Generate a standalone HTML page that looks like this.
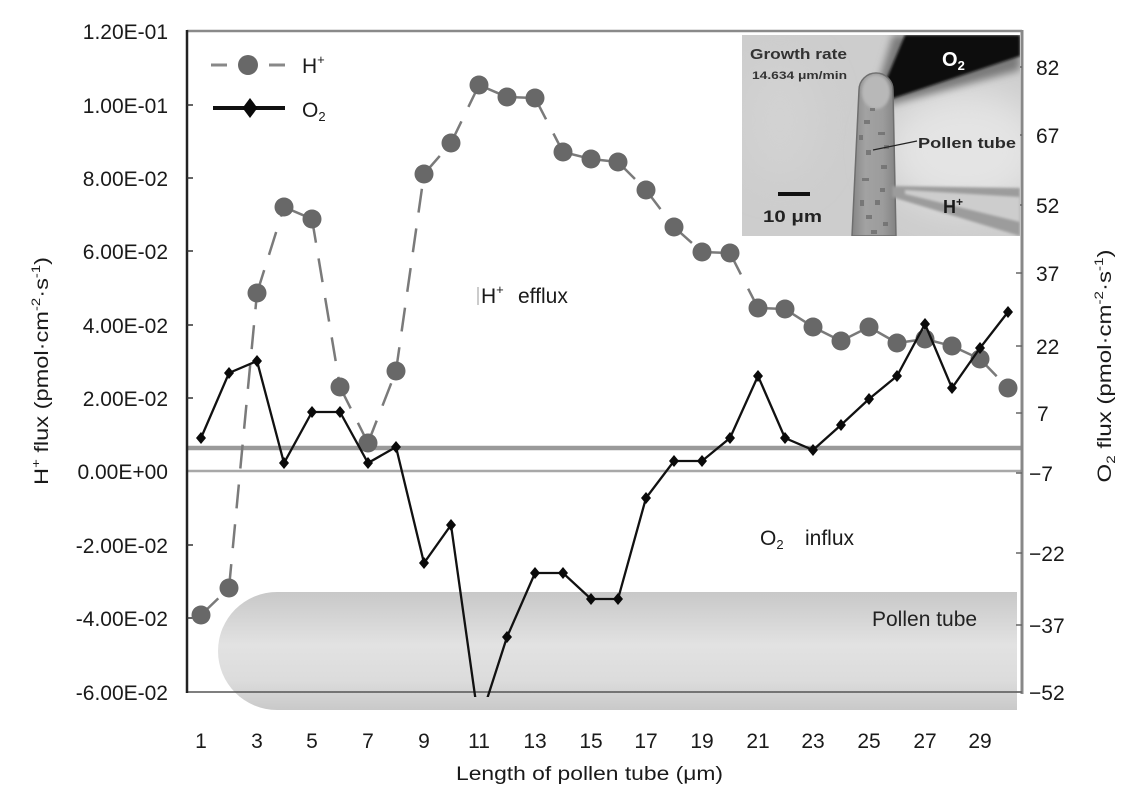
<!DOCTYPE html>
<html>
<head>
<meta charset="utf-8">
<style>
  html,body{margin:0;padding:0;background:#fff;}
  body{width:1133px;height:794px;overflow:hidden;}
  svg{display:block;}
  text{font-family:"Liberation Sans",Arial,sans-serif;}
</style>
</head>
<body>
<svg width="1133" height="794" viewBox="0 0 1133 794" xmlns="http://www.w3.org/2000/svg" fill="#1a1a1a">
  <defs>
    <linearGradient id="tubeG" x1="0" y1="0" x2="0" y2="1">
      <stop offset="0" stop-color="#c8c8c8"/>
      <stop offset="0.45" stop-color="#e2e2e2"/>
      <stop offset="0.75" stop-color="#dcdcdc"/>
      <stop offset="1" stop-color="#c9c9c9"/>
    </linearGradient>
    <clipPath id="plotClip"><rect x="187" y="25" width="840" height="672"/></clipPath>
    <clipPath id="insetClip"><rect x="742" y="35" width="278" height="201"/></clipPath>
    <filter id="blur6" x="-50%" y="-50%" width="200%" height="200%"><feGaussianBlur stdDeviation="4"/></filter>
    <filter id="blur2" x="-50%" y="-50%" width="200%" height="200%"><feGaussianBlur stdDeviation="1.2"/></filter>
    <filter id="blur15" x="-50%" y="-50%" width="200%" height="200%"><feGaussianBlur stdDeviation="18"/></filter>
    <linearGradient id="tubeInset" x1="0" y1="0" x2="1" y2="0">
      <stop offset="0" stop-color="#858585"/>
      <stop offset="0.3" stop-color="#a2a2a2"/>
      <stop offset="0.7" stop-color="#9c9c9c"/>
      <stop offset="1" stop-color="#828282"/>
    </linearGradient>
  </defs>

  <!-- Pollen tube band -->
  <path d="M1017 592 L277 592 A59 59 0 0 0 277 710 L1017 710 Z" fill="url(#tubeG)"/>
  <text x="872" y="626" font-size="21" fill="#222">Pollen tube</text>

  <!-- reference lines -->
  <line x1="187" y1="448" x2="1022" y2="448" stroke="#9a9a9a" stroke-width="4.5"/>
  <line x1="187" y1="471" x2="1022" y2="471" stroke="#a8a8a8" stroke-width="2.5"/>

  <!-- axes -->
  <line x1="187" y1="31" x2="1022" y2="31" stroke="#8a8a8a" stroke-width="2.5"/>
  <line x1="187" y1="692" x2="1022" y2="692" stroke="#555" stroke-width="1.5"/>
  <line x1="1022" y1="30" x2="1022" y2="694" stroke="#888" stroke-width="3"/>
  <line x1="187" y1="30" x2="187" y2="693" stroke="#222" stroke-width="2.5"/>

  <!-- left ticks -->
  <g stroke="#333" stroke-width="1.5">
    <line x1="187" y1="105" x2="193" y2="105"/>
    <line x1="187" y1="178" x2="193" y2="178"/>
    <line x1="187" y1="251" x2="193" y2="251"/>
    <line x1="187" y1="325" x2="193" y2="325"/>
    <line x1="187" y1="398" x2="193" y2="398"/>
    <line x1="187" y1="545" x2="193" y2="545"/>
    <line x1="187" y1="618" x2="193" y2="618"/>
  </g>
  <!-- right ticks -->
  <g stroke="#666" stroke-width="1.5">
    <line x1="1016" y1="67" x2="1022" y2="67"/>
    <line x1="1016" y1="135" x2="1022" y2="135"/>
    <line x1="1016" y1="205" x2="1022" y2="205"/>
    <line x1="1016" y1="273" x2="1022" y2="273"/>
    <line x1="1016" y1="346" x2="1022" y2="346"/>
    <line x1="1016" y1="413" x2="1022" y2="413"/>
    <line x1="1016" y1="473" x2="1022" y2="473"/>
    <line x1="1016" y1="553" x2="1022" y2="553"/>
    <line x1="1016" y1="625" x2="1022" y2="625"/>
    <line x1="1016" y1="692" x2="1022" y2="692"/>
  </g>

  <!-- left tick labels -->
  <g font-size="21" text-anchor="end">
    <text x="168" y="39">1.20E-01</text>
    <text x="168" y="113">1.00E-01</text>
    <text x="168" y="186">8.00E-02</text>
    <text x="168" y="259">6.00E-02</text>
    <text x="168" y="333">4.00E-02</text>
    <text x="168" y="406">2.00E-02</text>
    <text x="168" y="479">0.00E+00</text>
    <text x="168" y="553">-2.00E-02</text>
    <text x="168" y="626">-4.00E-02</text>
    <text x="168" y="700">-6.00E-02</text>
  </g>

  <!-- right tick labels -->
  <g font-size="21">
    <text x="1036" y="75">82</text>
    <text x="1036" y="143">67</text>
    <text x="1036" y="213">52</text>
    <text x="1036" y="281">37</text>
    <text x="1036" y="354">22</text>
    <text x="1037" y="421">7</text>
    <text x="1029" y="481">−7</text>
    <text x="1029" y="561">−22</text>
    <text x="1029" y="633">−37</text>
    <text x="1029" y="700">−52</text>
  </g>

  <!-- x tick labels -->
  <g font-size="21" text-anchor="middle">
    <text x="201" y="748">1</text>
    <text x="257" y="748">3</text>
    <text x="312" y="748">5</text>
    <text x="368" y="748">7</text>
    <text x="424" y="748">9</text>
    <text x="479" y="748">11</text>
    <text x="535" y="748">13</text>
    <text x="591" y="748">15</text>
    <text x="646" y="748">17</text>
    <text x="702" y="748">19</text>
    <text x="758" y="748">21</text>
    <text x="813" y="748">23</text>
    <text x="869" y="748">25</text>
    <text x="925" y="748">27</text>
    <text x="980" y="748">29</text>
  </g>

  <!-- axis titles -->
  <text x="456" y="780" font-size="19" textLength="267" lengthAdjust="spacingAndGlyphs">Length of pollen tube (μm)</text>
  <text transform="translate(48,371) rotate(-90)" font-size="19" text-anchor="middle" textLength="228" lengthAdjust="spacingAndGlyphs">H<tspan font-size="12" dy="-8">+</tspan><tspan dy="8"> flux (pmol·cm</tspan><tspan font-size="12" dy="-8">-2</tspan><tspan dy="8">·s</tspan><tspan font-size="12" dy="-8">-1</tspan><tspan dy="8">)</tspan></text>
  <text transform="translate(1111,366) rotate(-90)" font-size="19" text-anchor="middle" textLength="233" lengthAdjust="spacingAndGlyphs">O<tspan font-size="12" dy="4">2</tspan><tspan dy="-4"> flux (pmol·cm</tspan><tspan font-size="12" dy="-8">-2</tspan><tspan dy="8">·s</tspan><tspan font-size="12" dy="-8">-1</tspan><tspan dy="8">)</tspan></text>

  <!-- annotations -->
  <line x1="478" y1="287" x2="478" y2="305" stroke="#999" stroke-width="1"/>
  <text x="481" y="303" font-size="21">H<tspan font-size="13" dy="-9">+</tspan><tspan dy="9" x="518">efflux</tspan></text>
  <text x="760" y="545" font-size="21">O<tspan font-size="13" dy="4">2</tspan><tspan dy="-4" x="805">influx</tspan></text>

  <!-- Inset micrograph -->
  <g clip-path="url(#insetClip)">
    <rect x="742" y="35" width="278" height="201" fill="#cdcdcd"/>
    <ellipse cx="965" cy="150" rx="80" ry="60" fill="#e4e4e4" filter="url(#blur15)"/>
    <ellipse cx="780" cy="120" rx="40" ry="60" fill="#d2d2d2" filter="url(#blur15)"/>
    <!-- O2 electrode -->
    <polygon points="870,110 893,35 1020,35 1020,70" fill="#7a7a7a" filter="url(#blur6)"/>
    <polygon points="876,104 905,35 1020,35 1020,56" fill="#0e0e0e" filter="url(#blur2)"/>
    <!-- tube -->
    <path d="M852 236 L859 90 A17 17 0 0 1 893 90 L896 236 Z" fill="url(#tubeInset)" stroke="#6e6e6e" stroke-width="1.5"/>
    <ellipse cx="876" cy="92" rx="14" ry="17" fill="#b8b8b8" filter="url(#blur2)"/>
    <g fill="#6e6e6e" opacity="0.8">
      <rect x="864" y="120" width="6" height="4"/><rect x="878" y="132" width="7" height="3"/>
      <rect x="866" y="150" width="5" height="5"/><rect x="881" y="165" width="6" height="4"/>
      <rect x="862" y="178" width="7" height="3"/><rect x="875" y="200" width="5" height="5"/>
      <rect x="866" y="215" width="6" height="4"/><rect x="883" y="222" width="5" height="4"/>
      <rect x="870" y="108" width="5" height="3"/><rect x="884" y="145" width="5" height="4"/>
      <rect x="860" y="200" width="4" height="6"/><rect x="880" y="188" width="5" height="4"/>
      <rect x="871" y="230" width="6" height="4"/><rect x="859" y="135" width="4" height="5"/>
    </g>
    <!-- H+ electrode -->
    <polygon points="892,186 1020,188 1020,236 892,197" fill="#9c9c9c" filter="url(#blur2)"/>
    <polygon points="905,190 1020,197 1020,222 905,194" fill="#cdcdcd" filter="url(#blur2)"/>
    <!-- labels -->
    <text x="750" y="59" font-size="15" font-weight="bold" fill="#333" textLength="97" lengthAdjust="spacingAndGlyphs">Growth rate</text>
    <text x="752" y="79" font-size="11" font-weight="bold" fill="#333" textLength="95" lengthAdjust="spacingAndGlyphs">14.634 μm/min</text>
    <text x="942" y="66" font-size="20" font-weight="bold" fill="#ffffff">O<tspan font-size="13" dy="4">2</tspan></text>
    <line x1="873" y1="150" x2="917" y2="141" stroke="#222" stroke-width="1.2"/>
    <text x="918" y="148" font-size="15" font-weight="bold" fill="#2a2a2a" textLength="98" lengthAdjust="spacingAndGlyphs">Pollen tube</text>
    <rect x="778" y="192" width="32" height="4" fill="#111"/>
    <text x="763" y="222" font-size="17" font-weight="bold" fill="#222" textLength="59" lengthAdjust="spacingAndGlyphs">10 μm</text>
    <text x="943" y="213" font-size="18" font-weight="bold" fill="#1a1a1a">H<tspan font-size="12" dy="-7">+</tspan></text>
  </g>

  <!-- H+ series: dashed segments -->
  <g stroke="#7a7a7a" stroke-width="2.5" fill="none" stroke-dasharray="24 16">
    <line x1="201" y1="615" x2="229" y2="588"/>
    <line x1="229" y1="588" x2="257" y2="293"/>
    <line x1="257" y1="293" x2="284" y2="207"/>
    <line x1="284" y1="207" x2="312" y2="219"/>
    <line x1="312" y1="219" x2="340" y2="387"/>
    <line x1="340" y1="387" x2="368" y2="443"/>
    <line x1="368" y1="443" x2="396" y2="371"/>
    <line x1="396" y1="371" x2="424" y2="174"/>
    <line x1="424" y1="174" x2="451" y2="143"/>
    <line x1="451" y1="143" x2="479" y2="85"/>
    <line x1="479" y1="85" x2="507" y2="97"/>
    <line x1="507" y1="97" x2="535" y2="98"/>
    <line x1="535" y1="98" x2="563" y2="152"/>
    <line x1="563" y1="152" x2="591" y2="159"/>
    <line x1="591" y1="159" x2="618" y2="162"/>
    <line x1="618" y1="162" x2="646" y2="190"/>
    <line x1="646" y1="190" x2="674" y2="227"/>
    <line x1="674" y1="227" x2="702" y2="252"/>
    <line x1="702" y1="252" x2="730" y2="253"/>
    <line x1="730" y1="253" x2="758" y2="308"/>
    <line x1="758" y1="308" x2="785" y2="309"/>
    <line x1="785" y1="309" x2="813" y2="327"/>
    <line x1="813" y1="327" x2="841" y2="341"/>
    <line x1="841" y1="341" x2="869" y2="327"/>
    <line x1="869" y1="327" x2="897" y2="343"/>
    <line x1="897" y1="343" x2="925" y2="339"/>
    <line x1="925" y1="339" x2="952" y2="346"/>
    <line x1="952" y1="346" x2="980" y2="359"/>
    <line x1="980" y1="359" x2="1008" y2="388"/>
  </g>
  <g fill="#686868">
    <circle cx="201" cy="615" r="9.5"/><circle cx="229" cy="588" r="9.5"/>
    <circle cx="257" cy="293" r="9.5"/><circle cx="284" cy="207" r="9.5"/>
    <circle cx="312" cy="219" r="9.5"/><circle cx="340" cy="387" r="9.5"/>
    <circle cx="368" cy="443" r="9.5"/><circle cx="396" cy="371" r="9.5"/>
    <circle cx="424" cy="174" r="9.5"/><circle cx="451" cy="143" r="9.5"/>
    <circle cx="479" cy="85" r="9.5"/><circle cx="507" cy="97" r="9.5"/>
    <circle cx="535" cy="98" r="9.5"/><circle cx="563" cy="152" r="9.5"/>
    <circle cx="591" cy="159" r="9.5"/><circle cx="618" cy="162" r="9.5"/>
    <circle cx="646" cy="190" r="9.5"/><circle cx="674" cy="227" r="9.5"/>
    <circle cx="702" cy="252" r="9.5"/><circle cx="730" cy="253" r="9.5"/>
    <circle cx="758" cy="308" r="9.5"/><circle cx="785" cy="309" r="9.5"/>
    <circle cx="813" cy="327" r="9.5"/><circle cx="841" cy="341" r="9.5"/>
    <circle cx="869" cy="327" r="9.5"/><circle cx="897" cy="343" r="9.5"/>
    <circle cx="925" cy="339" r="9.5"/><circle cx="952" cy="346" r="9.5"/>
    <circle cx="980" cy="359" r="9.5"/><circle cx="1008" cy="388" r="9.5"/>
  </g>

  <!-- O2 series -->
  <g clip-path="url(#plotClip)">
    <polyline fill="none" stroke="#111" stroke-width="2.3" stroke-linejoin="miter"
      points="201,438 229,373 257,361 284,463 312,412 340,412 368,463 396,447 424,563 451,525 479,724 507,637 535,573 563,573 591,599 618,599 646,498 674,461 702,461 730,438 758,376 785,438 813,450 841,425 869,399 897,376 925,324 952,388 980,348 1008,312"/>
  </g>
  <g fill="#0a0a0a">
    <path d="M201 432 l5 6 l-5 6 l-5 -6 Z"/>
    <path d="M229 367 l5 6 l-5 6 l-5 -6 Z"/>
    <path d="M257 355 l5 6 l-5 6 l-5 -6 Z"/>
    <path d="M284 457 l5 6 l-5 6 l-5 -6 Z"/>
    <path d="M312 406 l5 6 l-5 6 l-5 -6 Z"/>
    <path d="M340 406 l5 6 l-5 6 l-5 -6 Z"/>
    <path d="M368 457 l5 6 l-5 6 l-5 -6 Z"/>
    <path d="M396 441 l5 6 l-5 6 l-5 -6 Z"/>
    <path d="M424 557 l5 6 l-5 6 l-5 -6 Z"/>
    <path d="M451 519 l5 6 l-5 6 l-5 -6 Z"/>
    <path d="M507 631 l5 6 l-5 6 l-5 -6 Z"/>
    <path d="M535 567 l5 6 l-5 6 l-5 -6 Z"/>
    <path d="M563 567 l5 6 l-5 6 l-5 -6 Z"/>
    <path d="M591 593 l5 6 l-5 6 l-5 -6 Z"/>
    <path d="M618 593 l5 6 l-5 6 l-5 -6 Z"/>
    <path d="M646 492 l5 6 l-5 6 l-5 -6 Z"/>
    <path d="M674 455 l5 6 l-5 6 l-5 -6 Z"/>
    <path d="M702 455 l5 6 l-5 6 l-5 -6 Z"/>
    <path d="M730 432 l5 6 l-5 6 l-5 -6 Z"/>
    <path d="M758 370 l5 6 l-5 6 l-5 -6 Z"/>
    <path d="M785 432 l5 6 l-5 6 l-5 -6 Z"/>
    <path d="M813 444 l5 6 l-5 6 l-5 -6 Z"/>
    <path d="M841 419 l5 6 l-5 6 l-5 -6 Z"/>
    <path d="M869 393 l5 6 l-5 6 l-5 -6 Z"/>
    <path d="M897 370 l5 6 l-5 6 l-5 -6 Z"/>
    <path d="M925 318 l5 6 l-5 6 l-5 -6 Z"/>
    <path d="M952 382 l5 6 l-5 6 l-5 -6 Z"/>
    <path d="M980 342 l5 6 l-5 6 l-5 -6 Z"/>
    <path d="M1008 306 l5 6 l-5 6 l-5 -6 Z"/>
  </g>

  <!-- Legend -->
  <line x1="211" y1="65" x2="227" y2="65" stroke="#888" stroke-width="3"/>
  <circle cx="248" cy="65" r="10" fill="#686868"/>
  <line x1="269" y1="65" x2="285" y2="65" stroke="#888" stroke-width="3"/>
  <text x="302" y="73" font-size="21">H<tspan font-size="13" dy="-9">+</tspan></text>
  <line x1="213" y1="108" x2="285" y2="108" stroke="#111" stroke-width="4"/>
  <path d="M250 98 l7.5 10 l-7.5 10 l-7.5 -10 Z" fill="#0a0a0a"/>
  <text x="302" y="117" font-size="21">O<tspan font-size="13" dy="4">2</tspan></text>
</svg>
</body>
</html>
